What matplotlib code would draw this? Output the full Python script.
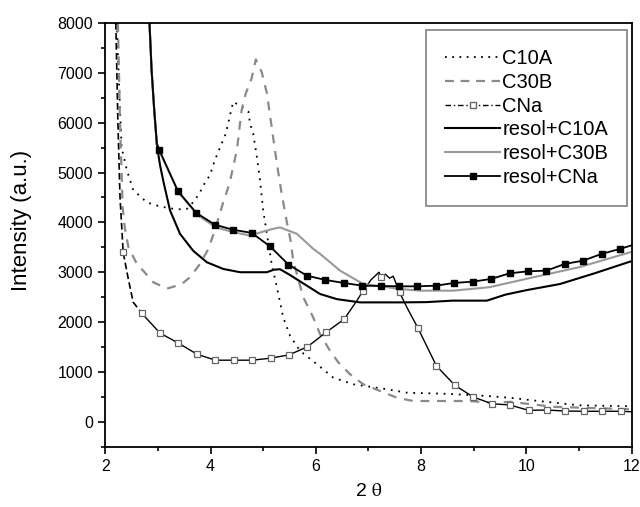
import numpy as np
import matplotlib
matplotlib.use('Agg')
import matplotlib.pyplot as plt
from matplotlib.lines import Line2D

plt.rcParams['font.family'] = ['Liberation Sans', 'DejaVu Sans']
plt.rcParams['mathtext.fontset'] = 'stix'

# C10A clay (dotted)
c10a_x = [2.22, 2.26, 2.31, 2.41, 2.53, 2.79, 3.04, 3.36, 3.55, 3.70, 3.80, 3.89, 3.99, 4.08,
          4.21, 4.29, 4.37, 4.43, 4.59, 4.72, 4.75, 4.81, 4.88, 4.94, 5.00, 5.07, 5.16, 5.26,
          5.38, 5.51, 5.70, 6.02, 6.33, 6.71, 7.35, 7.73, 8.5, 9.25, 9.7, 10.2, 11.0, 12.0]
c10a_y = [8000, 6800, 5500, 5050, 4650, 4400, 4320, 4260, 4270, 4440, 4610, 4790, 4950, 5245,
          5580, 5780, 6150, 6420, 6320, 6220, 5980, 5780, 5310, 4840, 4240, 3770, 3170, 2700,
          2093, 1724, 1422, 1155, 885, 752, 652, 583, 560, 517, 480, 420, 330, 310]

# C30B clay (grey dashed)
c30b_x = [2.24, 2.28, 2.31, 2.33, 2.37, 2.44, 2.60, 2.72, 2.91, 3.17, 3.45, 3.61, 3.80, 3.96,
          4.08, 4.24, 4.36, 4.50, 4.59, 4.67, 4.78, 4.86, 4.97, 5.07, 5.16, 5.26, 5.35, 5.45,
          5.52, 5.57, 5.76, 5.95, 6.08, 6.27, 6.43, 6.65, 6.90, 7.22, 7.54, 7.85, 8.9, 9.37,
          9.7, 10.5, 12.0]
c30b_y = [8000, 6000, 5000, 4300, 3900, 3500, 3167, 3030, 2800, 2670, 2760, 2900, 3167, 3470,
          3840, 4400, 4780, 5450, 6250, 6590, 6890, 7270, 7020, 6590, 5920, 5180, 4580, 4000,
          3640, 3230, 2500, 2093, 1758, 1422, 1187, 954, 752, 618, 483, 416, 416, 382,
          400, 300, 250]

# CNa clay (thin black, open squares)
cna_x = [2.20, 2.24, 2.28, 2.34, 2.44, 2.53, 2.69, 3.04, 3.39, 3.74, 4.09, 4.44, 4.79, 5.14,
         5.49, 5.84, 6.19, 6.54, 6.78, 6.89, 7.05, 7.20, 7.24, 7.32, 7.40, 7.47, 7.59, 7.73,
         7.94, 8.29, 8.64, 8.99, 9.34, 9.69, 10.04, 10.39, 10.74, 11.09, 11.44, 11.79, 12.0]
cna_y = [8000, 6000, 4500, 3400, 2850, 2400, 2180, 1778, 1577, 1356, 1235, 1235, 1235, 1275,
         1342, 1503, 1791, 2060, 2430, 2616, 2850, 3000, 2900, 2960, 2880, 2920, 2596, 2294,
         1880, 1121, 732, 497, 362, 336, 229, 235, 215, 210, 210, 210, 200]
cna_marks = np.round(2.34 + 0.35 * np.arange(28), 2)

# resol + C10A (black solid)
rc10a_x = [2.84, 2.88, 2.93, 2.98, 3.04, 3.10, 3.23, 3.42, 3.67, 3.93, 4.24, 4.56, 5.07, 5.20,
           5.32, 5.50, 5.80, 6.08, 6.40, 6.84, 7.6, 8.1, 8.6, 9.25, 9.6, 10.0, 10.64, 11.3, 11.97]
rc10a_y = [8000, 7050, 6250, 5550, 5150, 4840, 4240, 3770, 3430, 3200, 3066, 3000, 3000, 3050,
           3060, 2950, 2750, 2563, 2460, 2395, 2395, 2400, 2430, 2430, 2550, 2640, 2764, 2980, 3213]

# resol + C30B (grey solid)
rc30b_x = [2.84, 2.88, 2.93, 2.98, 3.04, 3.39, 3.75, 4.10, 4.45, 4.75, 5.07, 5.19, 5.32, 5.64,
           5.95, 6.08, 6.46, 6.90, 7.6, 7.98, 8.61, 9.3, 10.13, 11.0, 11.97]
rc30b_y = [8000, 7050, 6250, 5580, 5400, 4600, 4150, 3900, 3800, 3736, 3837, 3871, 3900, 3770,
           3469, 3368, 3032, 2764, 2663, 2630, 2630, 2700, 2898, 3100, 3400]

# resol + CNa (black solid, filled squares)
rcna_x = [2.84, 2.88, 2.93, 2.98, 3.03, 3.38, 3.73, 4.08, 4.43, 4.78, 5.13, 5.48, 5.83, 6.18,
          6.53, 6.88, 7.23, 7.58, 7.93, 8.28, 8.63, 8.98, 9.33, 9.68, 10.03, 10.38, 10.73, 11.08,
          11.43, 11.78, 12.0]
rcna_y = [8000, 7050, 6250, 5580, 5446, 4628, 4190, 3955, 3851, 3790, 3518, 3153, 2931, 2845,
          2785, 2730, 2725, 2717, 2717, 2730, 2785, 2811, 2865, 2978, 3018, 3032, 3166, 3233,
          3368, 3468, 3540]

fig = plt.figure(figsize=(6.4, 5.07), dpi=100)
ax = fig.add_axes([0.1645, 0.119, 0.8225, 0.8356])

grey = '#8a8a8a'
ax.plot(c10a_x, c10a_y, color='black', ls=(0, (1, 3.2)), lw=1.3)
ax.plot(c30b_x, c30b_y, color=grey, ls=(0, (4, 3.5)), lw=1.6)

cna_x = np.array(cna_x)
idx = [i for i, v in enumerate(cna_x) if np.isclose(cna_marks, v).any()]
k = 7
ax.plot(cna_x[:k], cna_y[:k], color='black', ls=(0, (4, 2)), lw=1.2)
ax.plot(cna_x[k - 1:], cna_y[k - 1:], color='black', lw=1.0)
ax.plot(cna_x[idx], np.array(cna_y)[idx], ls='none', marker='s', ms=4.6,
        mfc='white', mec='#666666', mew=0.9)

ax.plot(rc10a_x, rc10a_y, color='black', lw=1.5)
ax.plot(rc30b_x, rc30b_y, color='#999999', lw=1.5)
ax.plot(rcna_x, rcna_y, color='black', lw=1.3, marker='s', ms=4.2,
        markevery=slice(4, -1))

ax.set_xlim(2, 12)
ax.set_ylim(-500, 8000)
ax.set_xticks([2, 4, 6, 8, 10, 12])
ax.set_xticks([3, 5, 7, 9, 11], minor=True)
ax.set_yticks(np.arange(0, 8001, 1000))
ax.set_yticks(np.arange(-500, 8000, 1000), minor=True)
ax.tick_params(which='both', direction='out', width=1.2, labelsize=11.5, pad=4,
               top=False, right=False)
ax.tick_params(which='major', length=5)
ax.tick_params(which='minor', length=3)
for s in ax.spines.values():
    s.set_linewidth(1.3)

ax.set_xlabel(r'2 $\mathrm{\theta}$', fontsize=14, labelpad=6)
ax.set_ylabel('Intensity (a.u.)', fontsize=16)
ax.yaxis.set_label_coords(-0.139, 0.535)

handles = [
    Line2D([], [], color='black', ls=(0, (1, 3)), lw=1.3),
    Line2D([], [], color=grey, ls=(0, (4, 3)), lw=1.6),
    Line2D([], [], color='black', ls=(0, (4, 2, 1, 2)), lw=1.0, marker='s', ms=4.5,
           mfc='white', mec='#666666', markevery=[1]),
    Line2D([], [], color='black', lw=1.5),
    Line2D([], [], color='#999999', lw=1.5),
    Line2D([], [], color='black', lw=1.3, marker='s', ms=4.5, markevery=[1]),
]
labels = ['C10A', 'C30B', 'CNa', 'resol+C10A', 'resol+C30B', 'resol+CNa']
for h in handles:
    h.set_xdata([0, 0.5, 1])
leg = ax.legend(handles, labels, loc='upper right', bbox_to_anchor=(0.992, 0.984),
                borderaxespad=0, fontsize=14.5, handlelength=2.75, handletextpad=0.1,
                labelspacing=0.24, borderpad=0.95, fancybox=False, framealpha=1,
                edgecolor=grey)
leg.get_frame().set_linewidth(1.3)

fig.savefig('out.png', dpi=100)
